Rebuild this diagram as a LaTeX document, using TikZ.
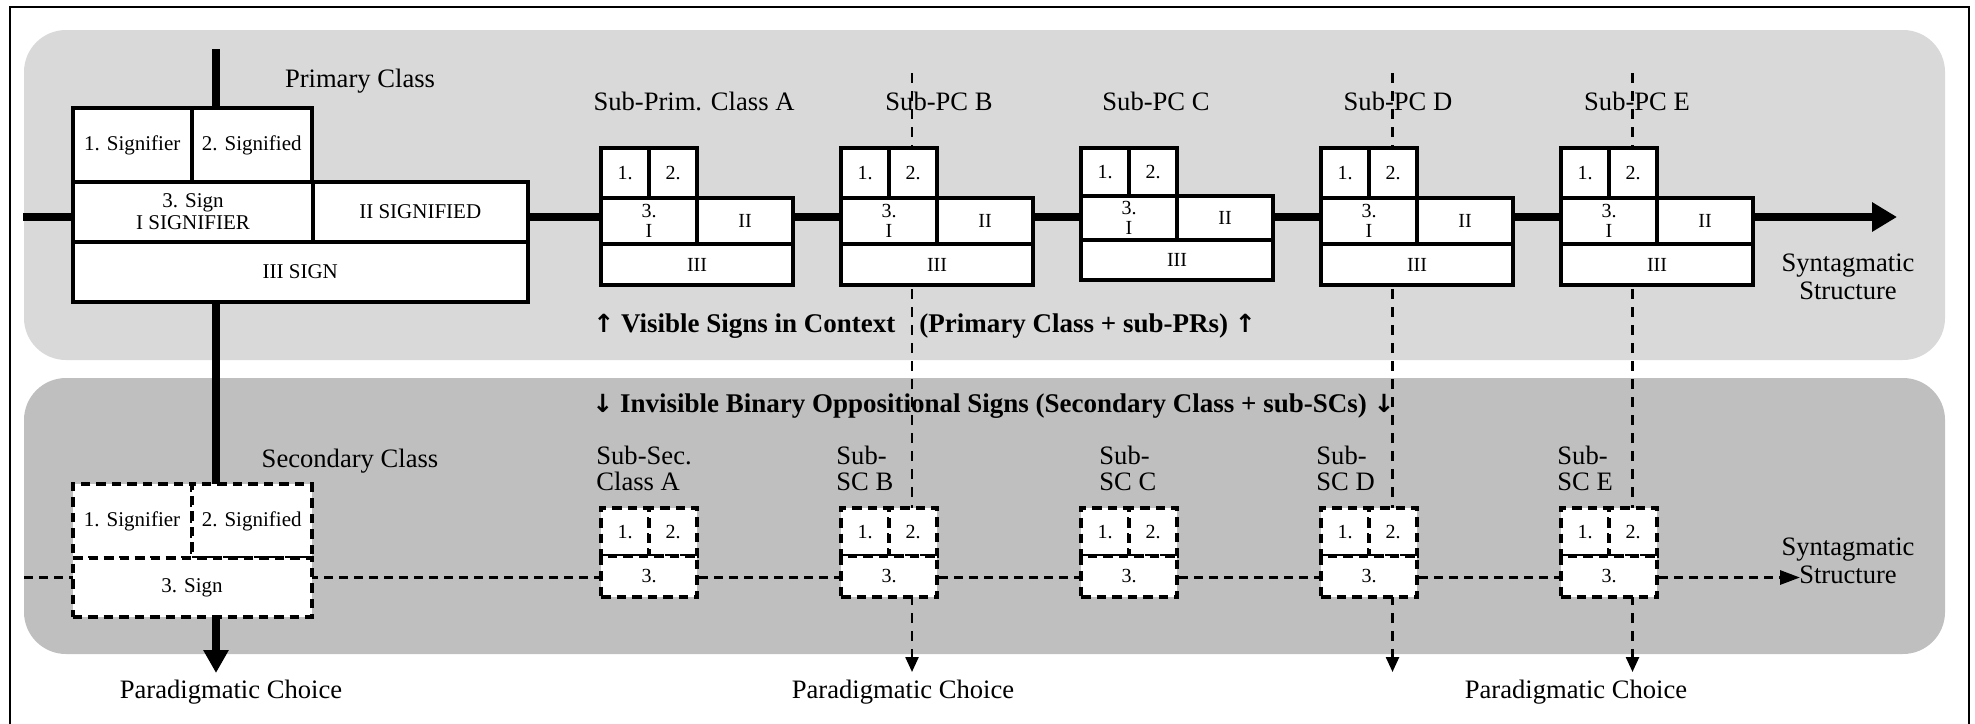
\documentclass[tikz,border=0pt]{standalone}
\usepackage{fontspec}
\setmainfont{Liberation Serif}
\newfontfamily\arrowfont{DejaVu Sans}
\usetikzlibrary{arrows.meta,fit}
\definecolor{panelA}{HTML}{D9D9D9}
\definecolor{panelB}{HTML}{BFBFBF}
\newcommand{\uparr}{{\arrowfont\bfseries\fontsize{12.5}{12}\selectfont ↑}}
\newcommand{\dnarr}{{\arrowfont\bfseries\fontsize{12.5}{12}\selectfont ↓}}
\begin{document}
\begin{tikzpicture}[x=0.5pt,y=-0.5pt,
  panelbg/.style={fill=#1, draw=none, rounded corners=21pt},
  cellbox/.style={draw=black, fill=white, line width=2pt, inner sep=0pt, outer sep=0pt},
  dcell/.style={cellbox, line width=2pt, dash pattern=on 4.75pt off 3pt},
  celltxt/.style={inner sep=0pt, align=center, font=\fontsize{10.5}{11}\selectfont},
  subtxt/.style={inner sep=0pt, align=center, font=\fontsize{10}{10}\selectfont},
  lbl/.style={inner sep=0pt, font=\fontsize{13.3}{14}\selectfont},
  lbltwo/.style={inner sep=0pt, align=left, font=\fontsize{13.3}{13}\selectfont},
  blbl/.style={inner sep=0pt, font=\fontsize{13.5}{14}\selectfont\bfseries},
  thickline/.style={line width=3.6pt},
  vdash/.style={line width=1.2pt, dash pattern=on 5pt off 4pt, -{Triangle[length=7.5pt,width=6.5pt]}},
  hdash/.style={line width=1.5pt, dash pattern=on 4.5pt off 3pt, -{Triangle[length=10pt,width=7pt]}},
]
\useasboundingbox (0,0) rectangle (1975,723);
% frame
\draw[line width=1pt] (10,740) -- (10,7) -- (1969,7) -- (1969,740);
% panels
\fill[panelbg=panelA] (24,30) rectangle (1945,360);
\fill[panelbg=panelB] (24,378) rectangle (1945,654);

% connectors behind boxes
\coordinate (synA0) at (23,217);
\coordinate (synA1) at (1897,217);
\draw[thickline,-{Triangle[length=12.5pt,width=14pt]}] (synA0) -- (synA1);
\coordinate (par0) at (216,49);
\coordinate (par1) at (216,673);
\draw[thickline,-{Triangle[length=11.5pt,width=12pt]}] (par0) -- (par1);
\coordinate (synB0) at (24,577.5);
\coordinate (synB1) at (1800,577.5);
\draw[hdash] (synB0) -- (synB1);
\foreach \n/\x in {B/912,D/1392.5,E/1632.5}{
  \coordinate (v\n0) at (\x,73);
  \coordinate (v\n1) at (\x,672);
  \draw[vdash] (v\n0) -- (v\n1);
}

% primary class box
\node[cellbox, fit={(73,108)(191.5,182)}] (p1) {};
\node[cellbox, fit={(191.5,108)(312,182)}] (p2) {};
\node[cellbox, fit={(73,182)(313,241.5)}] (p3) {};
\node[cellbox, fit={(313,182)(527.5,241.5)}] (pII) {};
\node[cellbox, fit={(73,241.5)(527.5,301.5)}] (pIII) {};
\node[celltxt] (p1t) at (p1.center) {1. Signifier};
\node[celltxt] (p2t) at (p2.center) {2. Signified};
\node[celltxt] (p3t) at (p3.center) {3. Sign\\I SIGNIFIER};
\node[celltxt] (pIIt) at (pII.center) {II SIGNIFIED};
\node[celltxt] (pIIIt) at (pIII.center) {III SIGN};

% sub primary boxes
\foreach \n/\L/\mt/\mb/\bt in {A/601/198/244/285, B/841/198/244/285, C/1081/196/240/280, D/1321/198/244/285, E/1561/198/244/285}{
  \node[cellbox, fit={(\L,148)(\L+48,\mt)}] (s\n1) {};
  \node[cellbox, fit={(\L+48,148)(\L+96,\mt)}] (s\n2) {};
  \node[cellbox, fit={(\L,\mt)(\L+96,\mb)}] (s\n3) {};
  \node[cellbox, fit={(\L+96,\mt)(\L+192,\mb)}] (s\n4) {};
  \node[cellbox, fit={(\L,\mb)(\L+192,\bt)}] (s\n5) {};
  \node[subtxt] at (s\n1.center) {1.};
  \node[subtxt] at (s\n2.center) {2.};
  \node[subtxt] at (s\n3.center) {3.\\I};
  \node[subtxt] at (s\n4.center) {II};
  \node[subtxt] at (s\n5.center) {III};
}

% secondary class box
\node[dcell, fit={(72.5,484.3)(191.7,558.3)}] (q1) {};
\node[dcell, fit={(191.7,484.3)(311.7,558.3)}] (q2) {};
\node[dcell, fit={(72.5,558.3)(311.7,617)}] (q3) {};
\node[celltxt] (q1t) at (q1.center) {1. Signifier};
\node[celltxt] (q2t) at (q2.center) {2. Signified};
\node[celltxt] (q3t) at (q3.center) {3. Sign};

% sub secondary boxes
\foreach \n/\L in {A/601,B/841,C/1081,D/1321,E/1561}{
  \node[dcell, fit={(\L,507.5)(\L+48,556)}] (t\n1) {};
  \node[dcell, fit={(\L+48,507.5)(\L+96,556)}] (t\n2) {};
  \node[dcell, fit={(\L,556)(\L+96,597)}] (t\n3) {};
  \node[subtxt] at (t\n1.center) {1.};
  \node[subtxt] at (t\n2.center) {2.};
  \node[subtxt] at (t\n3.center) {3.};
}

% labels
\node[lbl, anchor=base] (lPrim) at (360,87) {Primary Class};
\node[lbl, anchor=base] (lA) at (694,110) {Sub-Prim. Class A};
\node[lbl, anchor=base] (lB) at (939,110) {Sub-PC B};
\node[lbl, anchor=base] (lC) at (1156,110) {Sub-PC C};
\node[lbl, anchor=base] (lD) at (1398,110) {Sub-PC D};
\node[lbl, anchor=base] (lE) at (1637,110) {Sub-PC E};
\node[lbl, align=center, anchor=south] (synLabA) at (1848,300.6) {Syntagmatic\\Structure};
\node[lbl, align=center, anchor=south] (synLabB) at (1848,584.6) {Syntagmatic\\Structure};

\node[blbl, anchor=base west] (vis1) at (593,332) {\uparr\ Visible Signs in Context};
\node[blbl, anchor=base west] (vis2) at (919,332) {(Primary Class + sub-PRs) \uparr};
\node[blbl, anchor=base west] (invis) at (592,412.7) {\dnarr\ Invisible Binary Oppositional Signs (Secondary Class + sub-SCs) \dnarr};

\node[lbl, anchor=base] (lSec) at (350,467) {Secondary Class};
\node[lbltwo, anchor=south west] (lsA) at (596,491) {Sub-Sec.\\Class A};
\node[lbltwo, anchor=south west] (lsB) at (836,491) {Sub-\\SC B};
\node[lbltwo, anchor=south west] (lsC) at (1099,491) {Sub-\\SC C};
\node[lbltwo, anchor=south west] (lsD) at (1316,491) {Sub-\\SC D};
\node[lbltwo, anchor=south west] (lsE) at (1557,491) {Sub-\\SC E};

\node[lbl, anchor=base] (pc1) at (231,698) {Paradigmatic Choice};
\node[lbl, anchor=base] (pc2) at (903,698) {Paradigmatic Choice};
\node[lbl, anchor=base] (pc3) at (1576,698) {Paradigmatic Choice};
\end{tikzpicture}
\end{document}
